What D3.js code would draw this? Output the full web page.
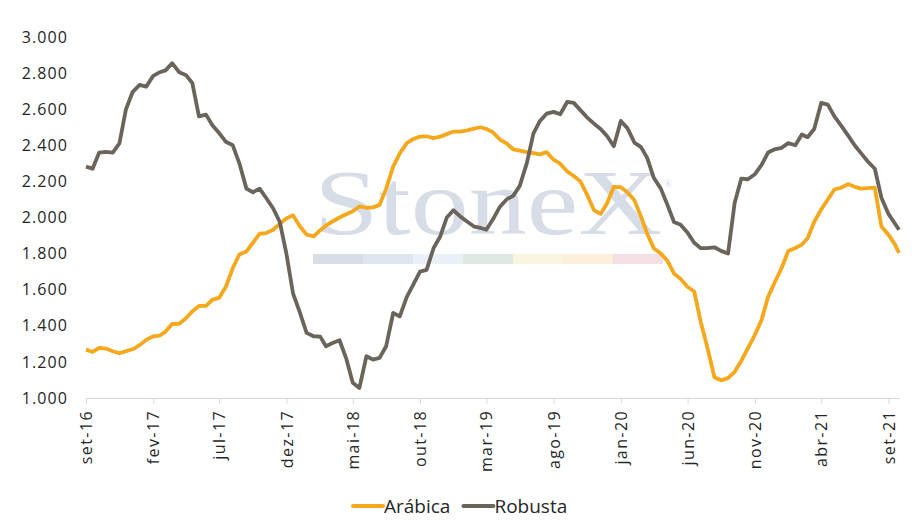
<!DOCTYPE html>
<html>
<head>
<meta charset="utf-8">
<script src="https://cdnjs.cloudflare.com/ajax/libs/d3/7.8.5/d3.min.js"></script>
<style>
  body { margin: 0; background: #fff; }
  text { font-family: "Open Sans", "Noto Sans", sans-serif; }
</style>
</head>
<body>
<div id="chart-container"></div>
<script>
// Semi-monthly readings, Sep 2016 -> Sep 2021
const dates = [
  "2016-09-01","2016-09-16","2016-10-01","2016-10-16","2016-11-01","2016-11-16","2016-12-01","2016-12-16",
  "2017-01-01","2017-01-16","2017-02-01","2017-02-16","2017-03-01","2017-03-16","2017-04-01","2017-04-16",
  "2017-05-01","2017-05-16","2017-06-01","2017-06-16","2017-07-01","2017-07-16","2017-08-01","2017-08-16",
  "2017-09-01","2017-09-16","2017-10-01","2017-10-16","2017-11-01","2017-11-16","2017-12-01","2017-12-16",
  "2018-01-01","2018-01-16","2018-02-01","2018-02-16","2018-03-01","2018-03-16","2018-04-01","2018-04-16",
  "2018-05-01","2018-05-16","2018-06-01","2018-06-16","2018-07-01","2018-07-16","2018-08-01","2018-08-16",
  "2018-09-01","2018-09-16","2018-10-01","2018-10-16","2018-11-01","2018-11-16","2018-12-01","2018-12-16",
  "2019-01-01","2019-01-16","2019-02-01","2019-02-16","2019-03-01","2019-03-16","2019-04-01","2019-04-16",
  "2019-05-01","2019-05-16","2019-06-01","2019-06-16","2019-07-01","2019-07-16","2019-08-01","2019-08-16",
  "2019-09-01","2019-09-16","2019-10-01","2019-10-16","2019-11-01","2019-11-16","2019-12-01","2019-12-16",
  "2020-01-01","2020-01-16","2020-02-01","2020-02-16","2020-03-01","2020-03-16","2020-04-01","2020-04-16",
  "2020-05-01","2020-05-16","2020-06-01","2020-06-16","2020-07-01","2020-07-16","2020-08-01","2020-08-16",
  "2020-09-01","2020-09-16","2020-10-01","2020-10-16","2020-11-01","2020-11-16","2020-12-01","2020-12-16",
  "2021-01-01","2021-01-16","2021-02-01","2021-02-16","2021-03-01","2021-03-16","2021-04-01","2021-04-16",
  "2021-05-01","2021-05-16","2021-06-01","2021-06-16","2021-07-01","2021-07-16","2021-08-01","2021-08-16",
  "2021-09-01","2021-09-16","2021-09-25"
];

const arabica = [
  1268,1255,1278,1274,1259,1248,1260,1270,
  1293,1322,1342,1346,1368,1410,1411,1440,1480,1510,1510,1545,1555,1615,1720,1795,
  1812,1860,1910,1914,1932,1965,1995,2012,
  1950,1905,1895,1930,1955,1978,2000,2018,2035,2061,2054,2056,2070,2160,2282,2355,
  2412,2435,2448,2450,2440,2448,2462,2476,
  2476,2483,2492,2500,2490,2472,2432,2410,2378,2370,2362,2356,2350,2362,2320,2298,
  2255,2230,2200,2128,2040,2020,2080,2170,
  2168,2140,2095,2005,1910,1830,1800,1760,1690,1660,1615,1590,1420,1280,1115,1098,
  1110,1145,1205,1275,1350,1430,1560,1640,
  1720,1815,1831,1850,1885,1975,2045,2100,2155,2165,2185,2170,2160,2163,2165,1950,
  1905,1850,1803
];

const robusta = [
  2282,2270,2360,2364,2360,2410,2600,2695,
  2735,2725,2785,2805,2815,2855,2805,2790,2745,2560,2570,2510,2468,2420,2400,2300,
  2160,2140,2160,2108,2050,1975,1800,1580,
  1471,1361,1342,1340,1287,1305,1320,1220,1084,1055,1231,1213,1222,1287,1471,1452,
  1560,1630,1700,1710,1831,1895,2000,2040,
  2005,1978,1950,1942,1932,1990,2060,2100,2120,2175,2300,2465,2535,2575,2585,2572,
  2640,2635,2595,2555,2520,2490,2450,2395,
  2535,2495,2415,2390,2330,2220,2160,2070,1975,1960,1915,1860,1830,1830,1835,1815,
  1800,2080,2215,2212,2240,2290,2360,2378,
  2386,2412,2400,2460,2445,2490,2635,2625,2560,2510,2455,2400,2355,2310,2270,2110,
  2020,1965,1932
];

const seriesNames = ["Arábica", "Robusta"];
const seriesColors = ["#f5a81c", "#6b645b"];

const tickDates = ["2016-09-01","2017-02-01","2017-07-01","2017-12-01","2018-05-01","2018-10-01",
  "2019-03-01","2019-08-01","2020-01-01","2020-06-01","2020-11-01","2021-04-01","2021-09-01"];
const monthNames = ["jan","fev","mar","abr","mai","jun","jul","ago","set","out","nov","dez"];
const yTicks = [1000,1200,1400,1600,1800,2000,2200,2400,2600,2800,3000];

const width = 920, height = 529;
const margin = { top: 37, right: 20, bottom: 131, left: 86 };
const chartWidth = width - margin.left - margin.right;
const chartHeight = height - margin.top - margin.bottom;

const parse = d3.timeParse("%Y-%m-%d");
const xDates = dates.map(parse);

const svg = d3.select("#chart-container")
  .append("svg")
  .attr("width", width)
  .attr("height", height);

// StoneX watermark
const wm = svg.append("g");
wm.append("text")
  .attr("x", 314)
  .attr("y", 234)
  .attr("textLength", 348)
  .attr("lengthAdjust", "spacingAndGlyphs")
  .style("font-family", "'Liberation Serif', 'DejaVu Serif', serif")
  .style("font-size", "94px")
  .attr("fill", "#d6dde6")
  .text("StoneX");
wm.append("text")
  .attr("x", 664)
  .attr("y", 187)
  .style("font-family", "'Liberation Serif', serif")
  .style("font-size", "11px")
  .attr("fill", "#d6dde6")
  .text("®");
const bandColors = ["#d9dde5","#e0e6ee","#eaf0f7","#dee9e1","#faf5e0","#fcf0dd","#f4e0e2"];
wm.selectAll("rect")
  .data(bandColors)
  .enter()
  .append("rect")
  .attr("x", (d, i) => 313 + i * 50)
  .attr("y", 254)
  .attr("width", 50)
  .attr("height", 10)
  .attr("fill", d => d);

const g = svg.append("g")
  .attr("transform", `translate(${margin.left},${margin.top})`);

const xScale = d3.scaleTime()
  .domain([xDates[0], xDates[xDates.length - 1]])
  .range([0, chartWidth - 1]);

const yScale = d3.scaleLinear()
  .domain([1000, 3000])
  .range([chartHeight, 0]);

const ptBR = d3.formatLocale({ decimal: ",", thousands: ".", grouping: [3], currency: ["R$", ""] });
const fmt = ptBR.format(",.0f");

// Y axis (labels only)
const yAxis = g.append("g")
  .call(d3.axisLeft(yScale).tickValues(yTicks).tickFormat(fmt).tickSize(0).tickPadding(18));
yAxis.select(".domain").remove();
yAxis.selectAll("text")
  .style("font-size", "16px")
  .style("letter-spacing", "1.1px")
  .attr("fill", "#262626");

// X axis
const xAxis = g.append("g")
  .attr("transform", `translate(0,${chartHeight})`)
  .call(d3.axisBottom(xScale)
    .tickValues(tickDates.map(parse))
    .tickFormat(d => monthNames[d.getMonth()] + "-" + String(d.getFullYear()).slice(2))
    .tickSizeOuter(0)
    .tickSize(6));
xAxis.select(".domain").attr("stroke", "#d9d9d9").attr("d", `M0,0.5H${chartWidth}`);
xAxis.selectAll(".tick line").attr("stroke", "#d9d9d9");
xAxis.selectAll("text")
  .attr("transform", "rotate(-90)")
  .attr("text-anchor", "end")
  .attr("x", -12)
  .attr("y", 0)
  .attr("dy", "0.35em")
  .style("font-size", "16px")
  .style("letter-spacing", "1.4px")
  .attr("fill", "#262626");

// Lines
const line = d3.line()
  .x((d, i) => xScale(xDates[i]))
  .y(d => yScale(d));

[arabica, robusta].forEach((vals, k) => {
  g.append("path")
    .datum(vals)
    .attr("fill", "none")
    .attr("stroke", seriesColors[k])
    .attr("stroke-width", 3.8)
    .attr("stroke-linejoin", "round")
    .attr("d", line);
});

// Legend
const legend = svg.append("g").attr("transform", "translate(353,506)");
let lx = 0;
seriesNames.forEach((name, k) => {
  legend.append("line")
    .attr("x1", lx).attr("x2", lx + 30)
    .attr("y1", 0).attr("y2", 0)
    .attr("stroke", seriesColors[k])
    .attr("stroke-width", 4)
    .attr("stroke-linecap", "round");
  const t = legend.append("text")
    .attr("x", lx + 31)
    .attr("y", 0)
    .attr("dy", "0.35em")
    .style("font-size", "19px")
    .attr("fill", "#262626")
    .text(name);
  lx += 31 + t.node().getComputedTextLength() + 13;
});
</script>
</body>
</html>
